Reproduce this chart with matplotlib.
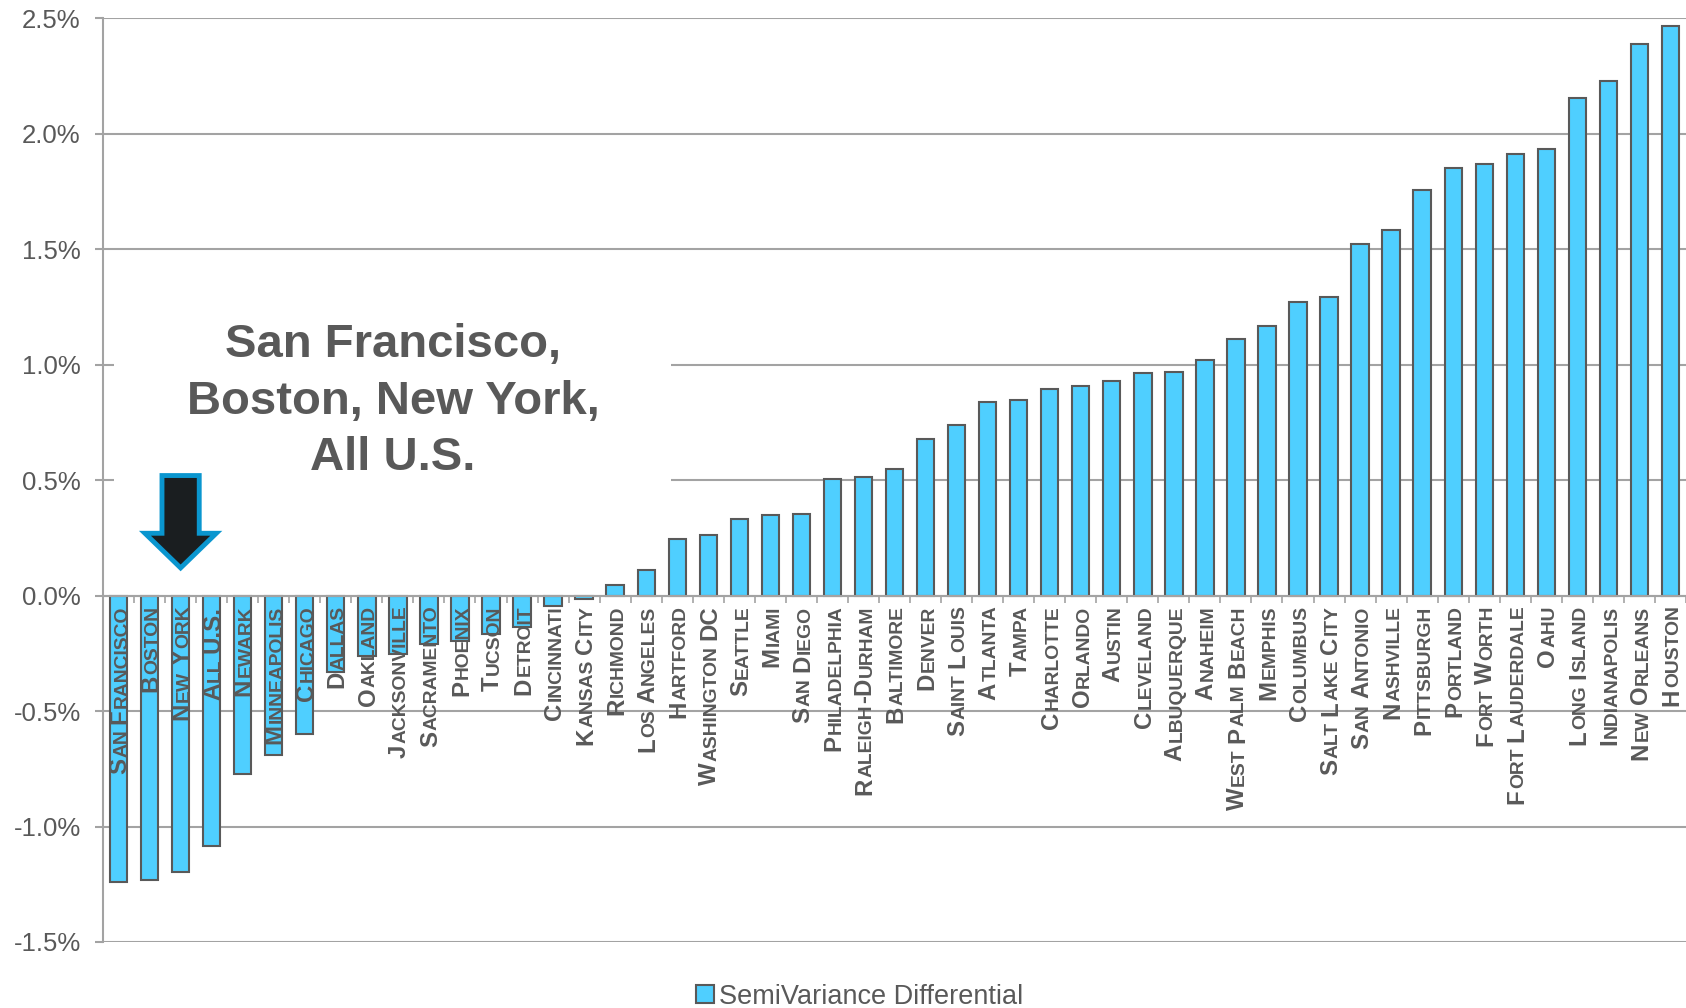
import matplotlib
matplotlib.use('Agg')
import matplotlib.pyplot as plt
import matplotlib.transforms as mtransforms
from matplotlib.patches import Polygon, Rectangle, Patch
from matplotlib.ticker import FuncFormatter
import numpy as np

plt.rcParams['font.family'] = ['Liberation Sans', 'DejaVu Sans']
plt.rcParams['axes.unicode_minus'] = False

cities = ["San Francisco", "Boston", "New York", "All U.S.", "Newark", "Minneapolis",
          "Chicago", "Dallas", "Oakland", "Jacksonville", "Sacramento", "Phoenix",
          "Tucson", "Detroit", "Cincinnati", "Kansas City", "Richmond", "Los Angeles",
          "Hartford", "Washington DC", "Seattle", "Miami", "San Diego", "Philadelphia",
          "Raleigh-Durham", "Baltimore", "Denver", "Saint Louis", "Atlanta", "Tampa",
          "Charlotte", "Orlando", "Austin", "Cleveland", "Albuquerque", "Anaheim",
          "West Palm Beach", "Memphis", "Columbus", "Salt Lake City", "San Antonio",
          "Nashville", "Pittsburgh", "Portland", "Fort Worth", "Fort Lauderdale", "Oahu",
          "Long Island", "Indianapolis", "New Orleans", "Houston"]

# semivariance differential, in percent
semivar_diff = [-1.240, -1.230, -1.195, -1.084, -0.773, -0.690, -0.598, -0.332, -0.261,
                -0.251, -0.209, -0.195, -0.165, -0.136, -0.046, -0.013, 0.047, 0.111,
                0.246, 0.264, 0.333, 0.350, 0.355, 0.506, 0.514, 0.550, 0.680, 0.740,
                0.838, 0.846, 0.893, 0.906, 0.931, 0.964, 0.970, 1.019, 1.113, 1.168,
                1.271, 1.295, 1.523, 1.585, 1.755, 1.851, 1.869, 1.912, 1.934, 2.154,
                2.228, 2.390, 2.465]

y_ticks = [-1.5, -1.0, -0.5, 0.0, 0.5, 1.0, 1.5, 2.0, 2.5]
legend_label = "SemiVariance Differential"
callout_text = "San Francisco,\nBoston, New York,\nAll U.S."

bar_color = '#4FCFFF'
edge_color = '#595959'
grid_color = '#A3A3A3'
text_color = '#595959'
dpi = 100


def smallcaps_words(name):
    # split a name into words of (text, is_big) pieces, like Office small caps
    words = []
    for word in name.split(' '):
        pieces = []
        for ch in word:
            big = not ch.islower()
            if pieces and pieces[-1][1] == big:
                pieces[-1][0] += ch.upper()
            else:
                pieces.append([ch.upper(), big])
        words.append(pieces)
    return words


fig = plt.figure(figsize=(16.86, 10.08), dpi=dpi)
ax = fig.add_axes([0.0611, 0.0655, 0.9389, 0.9163])

x = np.arange(len(cities))
ax.bar(x, semivar_diff, width=0.56, color=bar_color, edgecolor=edge_color,
       linewidth=1.5, zorder=3)

ax.set_xlim(-0.5, len(cities) - 0.5)
ax.set_ylim(-1.5, 2.5)
ax.set_yticks(y_ticks)
ax.yaxis.set_major_formatter(FuncFormatter(lambda v, p: '%.1f%%' % v))
ax.grid(axis='y', color=grid_color, linewidth=1.5, zorder=0)
ax.set_axisbelow(True)

ax.set_xticks(np.arange(-0.5, len(cities), 1.0))
ax.set_xticklabels([])
ax.tick_params(axis='x', direction='out', length=5, width=1.2, color=grid_color)
ax.tick_params(axis='y', direction='out', length=6, width=1.5, color=grid_color,
               labelsize=18.5, labelcolor=text_color, pad=10)

for s in ['top', 'right']:
    ax.spines[s].set_visible(False)
ax.spines['left'].set_color(grid_color)
ax.spines['left'].set_linewidth(1.5)
ax.spines['bottom'].set_position(('data', 0))
ax.spines['bottom'].set_color(grid_color)
ax.spines['bottom'].set_linewidth(1.5)
ax.spines['bottom'].set_zorder(4)

# white panel behind the callout hides the gridlines
ax.add_patch(Rectangle((-0.15, 0.02), 17.95, 1.36, facecolor='white',
                       edgecolor='none', zorder=1))
ax.text(8.84, 0.84, callout_text, ha='center', va='center', fontsize=34,
        fontweight='bold', color=text_color, linespacing=1.36, zorder=5)

# arrow pointing at New York
ny = cities.index("New York")
arrow_pts = [(ny - 0.6, 0.52), (ny + 0.6, 0.52), (ny + 0.6, 0.27), (ny + 1.15, 0.27),
             (ny, 0.12), (ny - 1.15, 0.27), (ny - 0.6, 0.27)]
ax.add_patch(Polygon(arrow_pts, closed=True, facecolor='#1A1E20', edgecolor='#0A96CF',
                     linewidth=3.5, joinstyle='miter', zorder=6))

# category labels in small caps, hung below the zero line
fig.canvas.draw()
renderer = fig.canvas.get_renderer()
big_pt, small_pt = 17.3, 13.9
piece_gap = 1.0
word_gap = 0.3 * small_pt * dpi / 72
for i, name in enumerate(cities):
    down = 10
    for wi, word in enumerate(reversed(smallcaps_words(name))):
        if wi > 0:
            down += word_gap
        for pj, (txt, big) in enumerate(reversed(word)):
            if pj > 0:
                down += piece_gap
            tr = mtransforms.offset_copy(ax.transData, fig=fig, x=8, y=-down, units='dots')
            t = ax.text(i, 0, txt, transform=tr, rotation=90, rotation_mode='anchor',
                        ha='right', va='baseline', fontsize=big_pt if big else small_pt,
                        fontweight='bold', color=text_color, zorder=7)
            down += t.get_window_extent(renderer).height

handle = Patch(facecolor=bar_color, edgecolor=edge_color, linewidth=1.5)
fig.legend([handle], [legend_label], loc='lower center', bbox_to_anchor=(0.51, -0.026),
           frameon=False, fontsize=19.5, handlelength=0.65, handleheight=0.65,
           handletextpad=0.2, labelcolor=text_color)

fig.savefig('out.png', dpi=dpi)
plt.close()
